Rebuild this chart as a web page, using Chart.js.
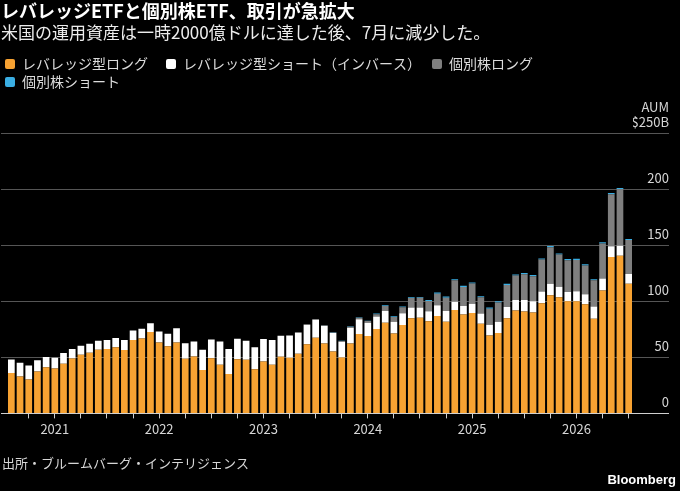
<!DOCTYPE html>
<html lang="ja">
<head>
<meta charset="utf-8">
<script src="https://cdn.jsdelivr.net/npm/chart.js@4.4.1/dist/chart.umd.min.js"></script>
<style>
  html, body { margin: 0; padding: 0; background: #000; }
  #wrap { width: 680px; height: 491px; position: relative; }
</style>
</head>
<body>
<div id="wrap"><canvas id="chart"></canvas></div>
<script>
const months = [
  "2020-08", "2020-09", "2020-10", "2020-11", "2020-12",
  "2021-01", "2021-02", "2021-03", "2021-04", "2021-05", "2021-06", "2021-07", "2021-08", "2021-09", "2021-10", "2021-11", "2021-12",
  "2022-01", "2022-02", "2022-03", "2022-04", "2022-05", "2022-06", "2022-07", "2022-08", "2022-09", "2022-10", "2022-11", "2022-12",
  "2023-01", "2023-02", "2023-03", "2023-04", "2023-05", "2023-06", "2023-07", "2023-08", "2023-09", "2023-10", "2023-11", "2023-12",
  "2024-01", "2024-02", "2024-03", "2024-04", "2024-05", "2024-06", "2024-07", "2024-08", "2024-09", "2024-10", "2024-11", "2024-12",
  "2025-01", "2025-02", "2025-03", "2025-04", "2025-05", "2025-06", "2025-07", "2025-08", "2025-09", "2025-10", "2025-11", "2025-12",
  "2026-01", "2026-02", "2026-03", "2026-04", "2026-05", "2026-06", "2026-07"
];

// $B
const leveragedLong = [
  36.2, 32.9, 30.2, 37.4, 41.3, 40.1, 44.3, 49.1, 52.4, 54.2, 56.9, 57.5,
  59.2, 56.6, 65.5, 67.0, 72.7, 63.4, 60.1, 63.4, 48.8, 50.9, 38.9, 49.4,
  43.4, 35.3, 48.5, 47.9, 39.5, 46.4, 43.4, 50.6, 49.7, 53.3, 61.9, 67.7,
  62.5, 55.4, 50.0, 62.5, 70.9, 69.1, 75.4, 81.1, 71.5, 79.0, 85.0, 85.4,
  82.3, 87.1, 82.0, 92.5, 88.3, 89.8, 80.2, 69.7, 71.8, 85.0, 91.9, 91.0,
  90.1, 98.4, 105.6, 103.8, 100.2, 100.2, 97.5, 84.7, 109.8, 139.7, 140.9, 115.8
];
const leveragedShort = [
  12.0, 12.3, 12.6, 10.2, 9.0, 9.6, 9.6, 8.4, 8.0, 8.0, 8.0, 8.0,
  8.1, 8.9, 8.7, 8.7, 7.8, 9.9, 11.1, 12.6, 14.0, 13.4, 18.0, 16.7,
  20.9, 22.2, 18.2, 17.0, 19.7, 20.0, 22.1, 18.8, 20.0, 19.1, 17.4, 16.1,
  15.6, 16.4, 14.0, 14.1, 13.2, 12.0, 11.1, 10.5, 10.5, 10.5, 9.6, 9.2,
  9.0, 9.5, 9.6, 7.4, 7.7, 8.3, 9.0, 9.6, 10.2, 10.2, 9.5, 10.4,
  10.1, 10.5, 10.2, 9.3, 8.4, 9.0, 9.0, 10.8, 10.8, 9.6, 9.0, 8.7
];
const singleLong = [
  0, 0, 0, 0, 0, 0, 0, 0, 0, 0, 0, 0,
  0, 0, 0, 0, 0, 0, 0, 0, 0, 0, 0, 0,
  0, 0, 0, 0, 0, 0, 0, 0, 0, 0, 0.4, 0.5,
  0.6, 0.6, 0.6, 0.9, 1.5, 1.5, 2.1, 4.4, 4.2, 5.4, 8.6, 8.8,
  9.1, 10.4, 11.8, 19.1, 17.0, 17.9, 14.5, 14.3, 17.2, 19.6, 21.8, 23.0,
  22.4, 28.6, 32.8, 28.9, 28.3, 28.0, 25.7, 23.5, 31.3, 46.6, 50.5, 30.4
];
const singleShort = [
  0, 0, 0, 0, 0, 0, 0, 0, 0, 0, 0, 0,
  0, 0, 0, 0, 0, 0, 0, 0, 0, 0, 0, 0,
  0, 0, 0, 0, 0, 0, 0, 0, 0, 0, 0, 0,
  0.3, 0.3, 0.3, 0.3, 0.3, 0.3, 0.6, 0.6, 0.6, 0.6, 0.6, 0.6,
  1.0, 1.0, 1.0, 1.0, 1.0, 1.0, 1.0, 1.0, 1.0, 1.0, 1.0, 1.0,
  1.0, 1.0, 1.0, 1.0, 1.0, 1.0, 1.0, 1.0, 1.0, 1.0, 1.0, 1.0
];

const seriesNames = ["レバレッジ型ロング", "レバレッジ型ショート（インバース）", "個別株ロング", "個別株ショート"];
const seriesColors = ["#f7a232", "#ffffff", "#7f7f7f", "#3aaee3"];
const yTicks = [0, 50, 100, 150, 200, 250];

const titleText = "レバレッジETFと個別株ETF、取引が急拡大";
const subtitleText = "米国の運用資産は一時2000億ドルに達した後、7月に減少した。";
const sourceText = "出所・ブルームバーグ・インテリジェンス";

const JP = '"Noto Sans CJK JP", "Noto Sans", sans-serif';
const tickFont = { family: JP, size: 13 };

const measure = document.createElement("canvas").getContext("2d");
measure.font = '13px "Noto Sans CJK JP"';
const widestLabel = measure.measureText("$250B").width;

function gridColor(ctx) {
  if (!ctx.tick) return "#555";
  return ctx.tick.value === 0 ? "#d0d0d0" : "#555555";
}

function keepTicks(scale) {
  scale.ticks = yTicks.map(v => ({ value: v }));
}

const footer = {
  id: "footer",
  afterDraw(chart) {
    const { ctx, width, height } = chart;
    ctx.save();
    ctx.textBaseline = "middle";
    ctx.fillStyle = "#d6d6d6";
    ctx.font = '13px "Noto Sans CJK JP"';
    ctx.fillText(sourceText, 2, height - 28);
    ctx.fillStyle = "#ffffff";
    ctx.textAlign = "right";
    ctx.font = 'bold 13px "Liberation Sans"';
    ctx.fillText("Bloomberg", width - 4, height - 11);
    ctx.restore();
  }
};

const datasets = [leveragedLong, leveragedShort, singleLong, singleShort].map((values, i) => ({
  label: seriesNames[i],
  data: values,
  backgroundColor: seriesColors[i],
  borderWidth: 0,
  barPercentage: 0.77,
  categoryPercentage: 1.0
}));

new Chart(document.getElementById("chart"), {
  type: "bar",
  data: { labels: months, datasets: datasets },
  plugins: [footer],
  options: {
    responsive: true,
    maintainAspectRatio: false,
    animation: false,
    layout: { padding: { left: 1, right: 11, top: 0, bottom: 51 } },
    plugins: {
      title: {
        display: true,
        text: titleText,
        align: "start",
        color: "#ffffff",
        font: { family: JP, size: 18, weight: "bold" },
        padding: { top: 0, bottom: 0 }
      },
      subtitle: {
        display: true,
        text: subtitleText,
        align: "start",
        color: "#ececec",
        font: { family: JP, size: 17 },
        padding: { top: 1, bottom: 10 }
      },
      legend: {
        position: "top",
        align: "start",
        labels: {
          color: "#dcdcdc",
          font: { family: JP, size: 14 },
          boxWidth: 10,
          boxHeight: 10,
          padding: 4,
          useBorderRadius: true,
          borderRadius: 2,
          generateLabels(chart) {
            return Chart.defaults.plugins.legend.labels.generateLabels(chart)
              .map(item => Object.assign(item, { text: item.text + "\u3000", lineWidth: 0 }));
          }
        }
      },
      tooltip: { enabled: false }
    },
    scales: {
      x: {
        stacked: true,
        offset: true,
        border: { display: false },
        grid: {
          offset: false,
          drawOnChartArea: false,
          tickLength: 5,
          color: ctx => (ctx.index % 3 === 2 ? "#cfcfcf" : "rgba(0,0,0,0)")
        },
        ticks: {
          autoSkip: false,
          maxRotation: 0,
          minRotation: 0,
          padding: 3,
          color: "#d6d6d6",
          font: tickFont,
          callback: (value, index) => (months[index].endsWith("-01") ? months[index].slice(0, 4) : "")
        }
      },
      y: {
        stacked: true,
        position: "right",
        min: 0,
        max: 281,
        afterBuildTicks: keepTicks,
        afterFit: scale => { scale.width = 36; },
        border: { display: false },
        grid: { color: gridColor, tickLength: 36 },
        ticks: {
          padding: -widestLabel,
          crossAlign: "far",
          labelOffset: -11.5,
          color: "#d6d6d6",
          font: tickFont,
          callback: value => (value === 250 ? ["AUM", "$250B", ""] : String(value))
        }
      },
      yLeft: {
        position: "left",
        min: 0,
        max: 281,
        afterBuildTicks: keepTicks,
        border: { display: false },
        grid: { color: gridColor, tickLength: 6, drawOnChartArea: false },
        ticks: { display: false }
      }
    }
  }
});
</script>
</body>
</html>
